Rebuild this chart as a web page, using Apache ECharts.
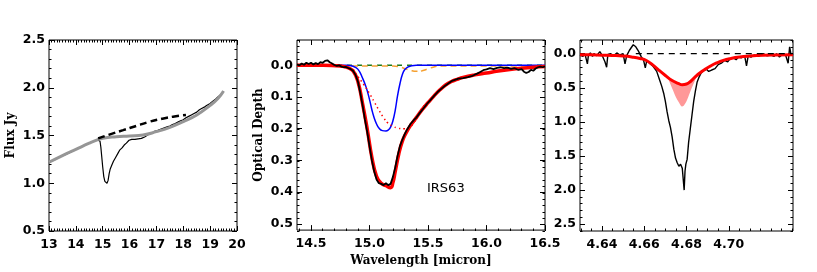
<!DOCTYPE html>
<html><head><meta charset="utf-8">
<script src="https://cdn.jsdelivr.net/npm/echarts@6/dist/echarts.min.js"></script>
<style>html,body{margin:0;padding:0;background:#fff}#c{width:817px;height:272px}</style>
</head><body><div id="c"></div>
<script>
// ---------- Panel 1: flux spectrum ----------
const p1DataWave = [13.0,13.2,13.4,13.6,13.8,14.0,14.2,14.4,14.5,14.6,14.7,14.8,14.86,14.90,14.93,14.96,15.00,15.04,15.08,15.12,15.16,15.20,15.24,15.28,15.34,15.40,15.48,15.56,15.64,15.72,15.80,15.88,15.94,15.98,16.02,16.08,16.14,16.20,16.26,16.32,16.38,16.44,16.50,16.56,16.62,16.70,16.78,16.86,16.94,17.02,17.10,17.20,17.30,17.40,17.50,17.60,17.70,17.80,17.90,18.00,18.10,18.20,18.30,18.40,18.50,18.60,18.70,18.80,18.90,19.00,19.10,19.20,19.30,19.40,19.50];
const p1DataFlux = [1.22,1.245,1.275,1.30,1.325,1.355,1.38,1.41,1.42,1.435,1.44,1.455,1.46,1.44,1.38,1.29,1.17,1.07,1.02,1.00,1.00,1.03,1.10,1.15,1.19,1.23,1.27,1.31,1.35,1.37,1.40,1.42,1.42,1.45,1.47,1.46,1.475,1.46,1.48,1.465,1.48,1.47,1.49,1.485,1.50,1.51,1.53,1.525,1.545,1.55,1.56,1.57,1.58,1.59,1.60,1.615,1.625,1.64,1.655,1.665,1.685,1.70,1.715,1.73,1.745,1.77,1.785,1.80,1.82,1.835,1.86,1.88,1.905,1.93,1.96];
const p1ContWave = [13.0,13.5,14.0,14.5,14.8,15.0,15.5,16.0,16.5,17.0,17.5,18.0,18.5,19.0,19.3,19.5];
const p1ContFlux = [1.22,1.29,1.355,1.42,1.455,1.472,1.487,1.495,1.505,1.54,1.585,1.645,1.715,1.815,1.89,1.965];
const p1DashWave = [14.83,15.3,15.76,16.25,16.75,17.2,17.62,18.1];
const p1DashFlux = [1.47,1.515,1.556,1.60,1.645,1.675,1.697,1.715];
const p1XTicks = [13,14,15,16,17,18,19,20];
const p1YTicks = [0.5,1.0,1.5,2.0,2.5];

// ---------- Panel 2: optical depth ----------
const p2ObsWave = [14.38,14.40,14.42,14.44,14.46,14.48,14.50,14.52,14.54,14.56,14.58,14.60,14.62,14.64,14.66,14.68,14.70,14.72,14.74,14.76,14.78,14.80,14.82,14.84,14.86,14.88,14.90,14.92,14.94,14.96,14.98,15.00,15.02,15.04,15.06,15.08,15.10,15.12,15.14,15.16,15.18,15.20,15.22,15.24,15.26,15.28,15.30,15.32,15.35,15.38,15.40,15.43,15.46,15.49,15.52,15.55,15.58,15.61,15.64,15.67,15.70,15.73,15.76,15.80,15.84,15.88,15.92,15.95,15.98,16.00,16.03,16.06,16.09,16.12,16.15,16.18,16.21,16.24,16.27,16.30,16.32,16.34,16.36,16.38,16.40,16.42,16.44,16.46,16.48,16.50];
const p2ObsTau = [-0.003,0.000,-0.006,-0.002,-0.008,-0.004,-0.008,-0.003,-0.007,-0.004,-0.010,-0.008,-0.014,-0.016,-0.010,-0.006,-0.001,0.002,0.000,0.004,0.006,0.005,0.009,0.012,0.018,0.030,0.050,0.085,0.125,0.170,0.210,0.255,0.300,0.335,0.360,0.372,0.374,0.378,0.372,0.378,0.374,0.352,0.322,0.285,0.255,0.235,0.218,0.203,0.185,0.172,0.165,0.150,0.136,0.122,0.110,0.097,0.085,0.075,0.066,0.058,0.050,0.046,0.042,0.040,0.037,0.033,0.026,0.020,0.014,0.013,0.009,0.012,0.008,0.006,0.009,0.007,0.011,0.009,0.014,0.012,0.020,0.024,0.021,0.014,0.017,0.010,0.006,0.004,0.006,0.003];
const p2FitWave = [14.38,14.60,14.75,14.82,14.86,14.90,14.94,14.98,15.02,15.06,15.10,15.14,15.18,15.20,15.22,15.25,15.28,15.31,15.35,15.40,15.45,15.50,15.55,15.60,15.65,15.70,15.75,15.80,15.90,16.00,16.10,16.20,16.30,16.40,16.50];
const p2FitTau = [0.000,0.000,0.002,0.008,0.018,0.050,0.120,0.200,0.290,0.350,0.372,0.380,0.386,0.370,0.335,0.280,0.240,0.215,0.190,0.165,0.140,0.118,0.097,0.078,0.062,0.051,0.044,0.038,0.030,0.024,0.018,0.013,0.009,0.006,0.004];
const p2BlueWave = [14.38,14.80,14.86,14.90,14.94,14.97,15.00,15.02,15.04,15.06,15.08,15.11,15.14,15.16,15.18,15.20,15.22,15.24,15.26,15.28,15.30,15.33,15.36,15.40,16.50];
const p2BlueTau = [0,0,0.003,0.012,0.040,0.068,0.108,0.140,0.166,0.185,0.198,0.206,0.207,0.204,0.195,0.175,0.141,0.095,0.058,0.030,0.014,0.005,0.001,0,0];
const p2DotWave = [14.86,14.90,14.95,15.00,15.04,15.08,15.12,15.16,15.20,15.24,15.29,15.34,15.38,15.42,15.46,15.50];
const p2DotTau = [0.012,0.035,0.060,0.089,0.115,0.141,0.165,0.183,0.192,0.198,0.200,0.196,0.180,0.155,0.130,0.115];
const p2OrangeWave = [14.38,15.20,15.26,15.30,15.35,15.40,15.45,15.50,15.55,15.60,16.50];
const p2OrangeTau = [0.002,0.002,0.005,0.010,0.016,0.019,0.017,0.011,0.005,0.002,0.002];
const p2GreenWave = [14.38,16.50];
const p2GreenTau = [0,0];
const p2XTicks = [14.5,15.0,15.5,16.0,16.5];
const p2YTicks = [0.0,0.1,0.2,0.3,0.4,0.5];
const p2Label = 'IRS63';

// ---------- Panel 3: CO band ----------
const p3ObsWave = [4.6296,4.6310,4.6320,4.6331,4.6336,4.6345,4.6355,4.6362,4.6375,4.6390,4.6400,4.6414,4.6422,4.6428,4.6440,4.6455,4.6470,4.6485,4.6500,4.6509,4.6517,4.6530,4.6548,4.6560,4.6572,4.6585,4.6597,4.6605,4.6612,4.6625,4.6640,4.6659,4.6672,4.6683,4.6692,4.6700,4.6708,4.6716,4.6724,4.6732,4.6740,4.6748,4.6756,4.6764,4.6772,4.6780,4.6785,4.6789,4.6793,4.6797,4.6803,4.6810,4.6818,4.6826,4.6834,4.6842,4.6850,4.6860,4.6870,4.6880,4.6895,4.6905,4.6919,4.6935,4.6950,4.6965,4.6980,4.6995,4.7005,4.7020,4.7035,4.7045,4.7060,4.7075,4.7084,4.7092,4.7105,4.7120,4.7140,4.7163,4.7180,4.7200,4.7215,4.7226,4.7240,4.7255,4.7270,4.7281,4.7288,4.7295,4.7304];
const p3ObsTau = [0.02,0.04,0.01,0.15,0.02,-0.01,0.04,0.00,0.03,-0.03,0.02,0.12,0.20,0.01,0.00,0.03,-0.01,0.02,0.00,0.15,0.03,-0.05,-0.13,-0.10,-0.04,0.04,0.10,0.21,0.10,0.14,0.18,0.26,0.38,0.48,0.58,0.70,0.85,0.98,1.08,1.22,1.40,1.53,1.60,1.65,1.62,1.68,1.70,2.00,1.72,1.62,1.55,1.30,1.10,0.90,0.70,0.55,0.42,0.34,0.28,0.25,0.23,0.26,0.24,0.22,0.16,0.14,0.10,0.12,0.08,0.06,0.09,0.05,0.06,0.03,0.18,0.03,0.05,0.02,0.04,0.00,0.03,0.02,0.04,0.00,0.05,0.01,0.03,0.14,-0.10,0.02,0.00];
const p3FitWave = [4.6296,4.635,4.640,4.645,4.650,4.654,4.658,4.661,4.664,4.667,4.670,4.673,4.676,4.678,4.680,4.682,4.684,4.6863,4.689,4.6911,4.694,4.6974,4.701,4.7052,4.710,4.7163,4.722,4.7304];
const p3FitTau = [0.015,0.018,0.022,0.027,0.035,0.048,0.070,0.100,0.165,0.245,0.320,0.390,0.435,0.455,0.445,0.405,0.345,0.284,0.225,0.186,0.140,0.098,0.070,0.049,0.036,0.025,0.020,0.016];
const p3BandWave = [4.6708,4.6720,4.6735,4.6750,4.6765,4.6778,4.6790,4.6805,4.6820,4.6835,4.6850,4.6860];
const p3BandTop = [0.33,0.355,0.40,0.42,0.44,0.455,0.453,0.44,0.405,0.36,0.315,0.29];
const p3BandBottom = [0.33,0.42,0.53,0.64,0.72,0.775,0.75,0.66,0.54,0.43,0.33,0.29];
const p3ZeroWave = [4.656,4.7304];
const p3ZeroTau = [0,0];
const p3XTicks = [4.64,4.66,4.68,4.70];
const p3YTicks = [0.0,0.5,1.0,1.5,2.0,2.5];

// ---------- helpers ----------
const zip = (a,b) => a.map((v,i)=>[v,b[i]]);
function minors(min,max,step){
  const out=[]; const s=Math.ceil(min/step-1e-9), e=Math.floor(max/step+1e-9);
  for(let k=s;k<=e;k++) out.push(+(k*step).toFixed(6));
  return out;
}
const TICK_FONT = {fontFamily:'DejaVu Sans', fontSize:12.5, fontWeight:'bold', color:'#000'};
const TITLE_FONT = {fontFamily:'DejaVu Serif', fontSize:12, fontWeight:'bold', color:'#000'};

const rects = [
  {left:49, top:40, width:188, height:191},
  {left:297, top:40, width:248, height:191},
  {left:580, top:40, width:213, height:191}
];
const panels = [
  {x:{min:13,max:20,ticks:p1XTicks,minor:0.1,dec:0}, y:{min:0.5,max:2.5,ticks:p1YTicks,minor:0.1,dec:1,inverse:false,name:'Flux Jy'}},
  {x:{min:14.38,max:16.5,ticks:p2XTicks,minor:0.1,dec:1,name:'Wavelength [micron]'}, y:{min:-0.08,max:0.52,ticks:p2YTicks,minor:0.02,dec:1,inverse:true,name:'Optical Depth'}},
  {x:{min:4.6296,max:4.7304,ticks:p3XTicks,minor:0.005,dec:2}, y:{min:-0.2,max:2.6,ticks:p3YTicks,minor:0.1,dec:1,inverse:true}}
];

// grid 2*p = major ticks + labels + frame; grid 2*p+1 = minor ticks
const grids=[], xAxes=[], yAxes=[];
function axisPair(list, gi, c, isX, major){
  const sides = isX ? ['bottom','top'] : ['left','right'];
  sides.forEach((pos, si) => {
    const ax = {
      type:'value', gridIndex:gi, position:pos, min:c.min, max:c.max,
      inverse: !!c.inverse, splitLine:{show:false},
      axisLine:{show:false, onZero:false},
      axisTick:{show:true, inside:true, length: major?5:2.5,
        lineStyle:{color:'#000', width:1},
        customValues: major ? c.ticks : minors(c.min,c.max,c.minor)},
      axisLabel:{show: major && si===0, customValues:c.ticks,
        formatter: v => Number(v).toFixed(c.dec),
        margin: isX?7:4, ...TICK_FONT}
    };
    if (major && si===0 && c.name){
      ax.name = c.name; ax.nameLocation='middle';
      ax.nameTextStyle = {...TITLE_FONT};
      if (isX){ ax.nameGap = 22; } else { ax.nameRotate = 90; ax.nameGap = 32; }
    }
    list.push(ax);
  });
}
panels.forEach((p,k)=>{
  grids.push(Object.assign({show:true, borderColor:'#000', borderWidth:1, containLabel:false}, rects[k]));
  grids.push(Object.assign({show:false, containLabel:false}, rects[k]));
  axisPair(xAxes,2*k,p.x,true,true); axisPair(yAxes,2*k,p.y,false,true);
  axisPair(xAxes,2*k+1,p.x,true,false); axisPair(yAxes,2*k+1,p.y,false,false);
});
// series of panel k use axes 4*k (major bottom/left)
function line(k, data, color, width, type, extra){
  return Object.assign({type:'line', xAxisIndex:4*k, yAxisIndex:4*k, data, showSymbol:false, symbol:'none',
    silent:true, animation:false, z:2,
    lineStyle:{color, width, type: type||'solid'}}, extra||{});
}

const bandData = p3BandWave.map((w,i)=>[w,p3BandTop[i],p3BandBottom[i]]);

const series = [
  // panel 1
  line(0, zip(p1DataWave,p1DataFlux), '#000', 1.2),
  line(0, zip(p1ContWave,p1ContFlux), '#969696', 3, 'solid', {smooth:true, z:3}),
  line(0, zip(p1DashWave,p1DashFlux), '#000', 2.5, [7,4], {smooth:true, z:4}),
  // panel 2
  line(1, zip(p2GreenWave,p2GreenTau), '#1a7a1a', 1.5, [5,5]),
  line(1, zip(p2OrangeWave,p2OrangeTau), '#f5a030', 1.5, [6,4], {smooth:true, lineStyle:{color:'#f5a030',width:1.5,type:[6,4],dashOffset:5}}),
  line(1, zip(p2BlueWave,p2BlueTau), '#0000ff', 1.5, 'solid', {smooth:true, z:3}),
  line(1, zip(p2DotWave,p2DotTau), '#ff0000', 1.5, [1.5,3], {smooth:true, z:3}),
  line(1, zip(p2FitWave,p2FitTau), '#ff0000', 3.5, 'solid', {smooth:true, z:4}),
  line(1, zip(p2ObsWave,p2ObsTau), '#000', 1.8, 'solid', {z:5}),
  // panel 3
  line(2, zip(p3ObsWave,p3ObsTau), '#000', 1.4, 'solid', {z:2}),
  {type:'custom', xAxisIndex:8, yAxisIndex:8, data:bandData, silent:true, animation:false, z:3,
    encode:{x:0, y:[1,2]},
    renderItem:(params, api)=>{
      if (params.dataIndex!==0) return null;
      const top = bandData.map(d=>api.coord([d[0],d[1]]));
      const bot = bandData.slice().reverse().map(d=>api.coord([d[0],d[2]]));
      return {type:'polygon', shape:{points: top.concat(bot), smooth:0.4}, style:{fill:'#ff9898'}};
    }},
  line(2, zip(p3FitWave,p3FitTau), '#ff0000', 3, 'solid', {smooth:true, z:4}),
  line(2, zip(p3ZeroWave,p3ZeroTau), '#000', 1.3, [6,5], {z:5})
];

const chart = echarts.init(document.getElementById('c'), null, {renderer:'canvas'});
chart.setOption({
  animation:false,
  backgroundColor:'#fff',
  grid: grids, xAxis: xAxes, yAxis: yAxes, series,
  graphic:[{type:'text', left:427, top:182, style:{text:p2Label, font:'13px "DejaVu Sans"', fill:'#000'}}]
});
</script></body></html>
